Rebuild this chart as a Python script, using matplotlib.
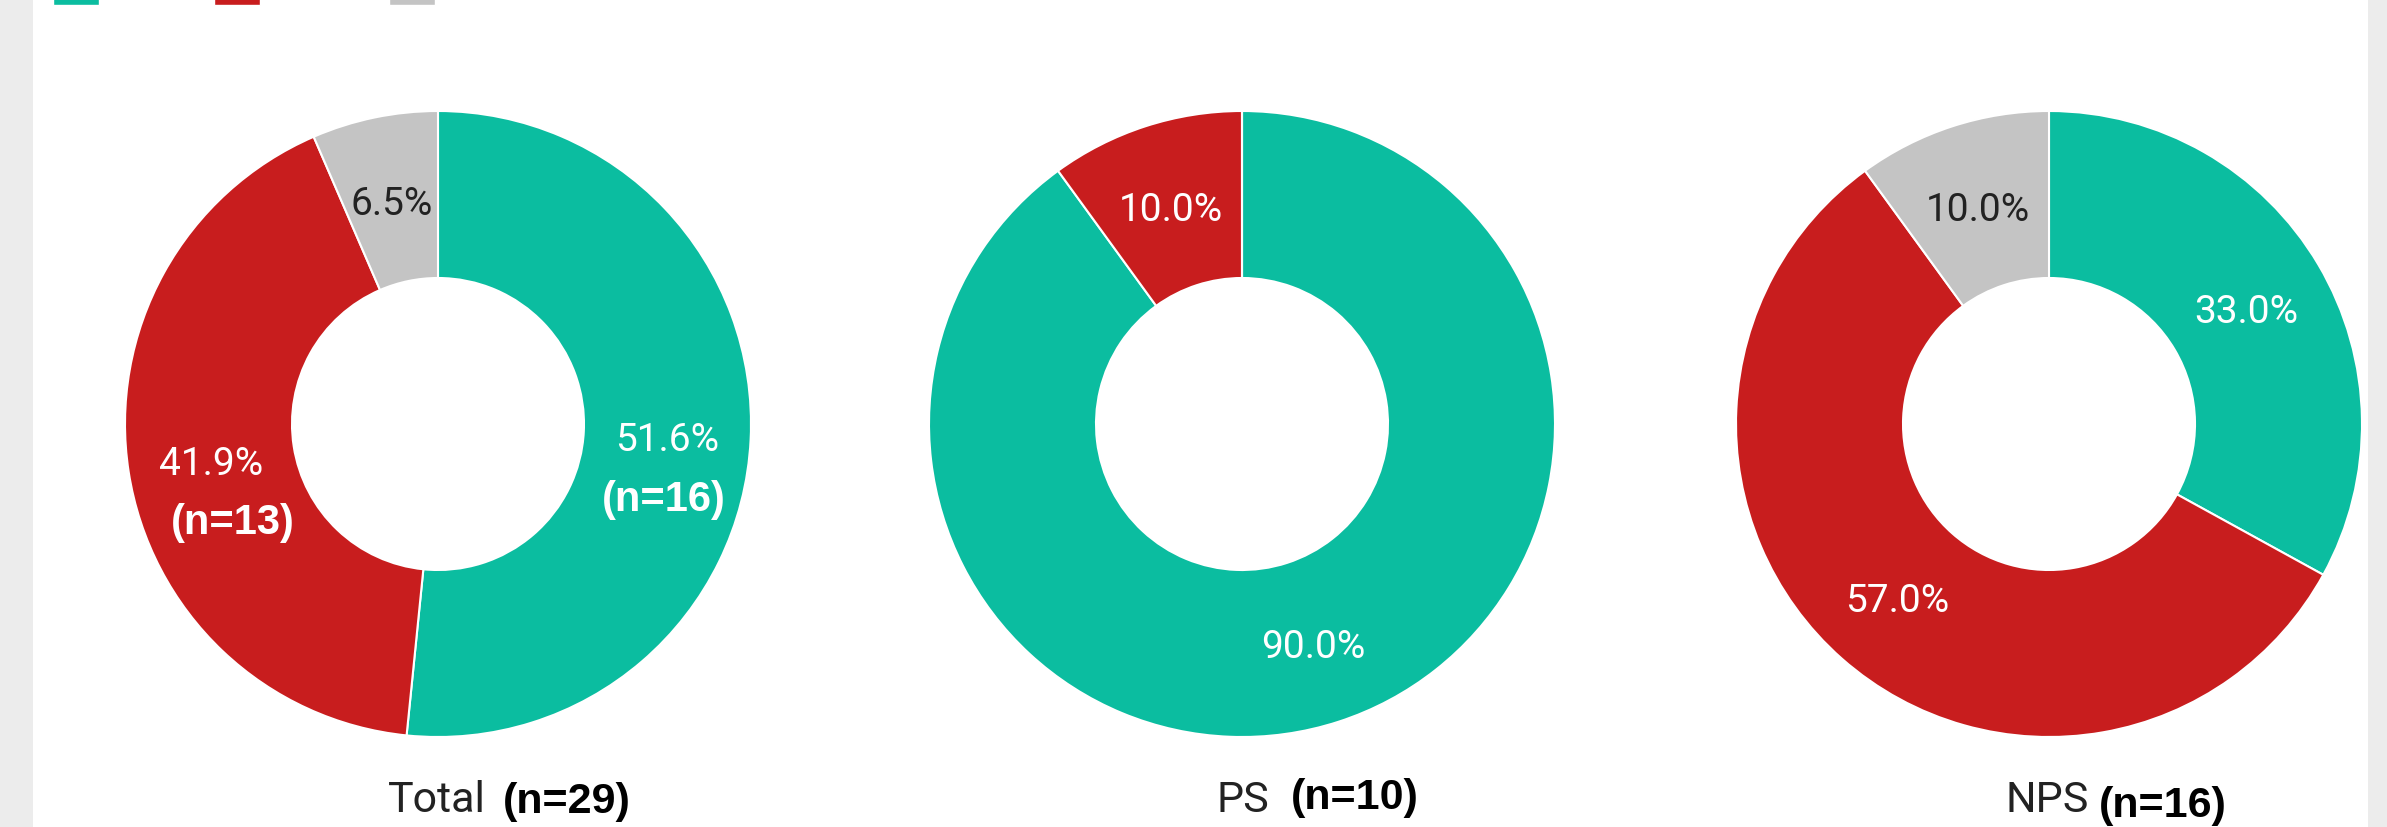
import matplotlib.pyplot as plt
from matplotlib.patches import Rectangle

W, H = 2387, 828

# data
groups = ['Total', 'PS', 'NPS']
group_n = ['(n=29)', '(n=10)', '(n=16)']
total_pct = [51.6, 41.9, 6.5]
ps_pct = [90.0, 10.0, 0.0]
nps_pct = [33.0, 57.0, 10.0]
total_slice_n = ['(n=16)', '(n=13)', '']

colors = ['#0bbda0', '#c81d1e', '#c4c4c4']
text_colors = ['white', 'white', '#222222']

# layout (pixels, from top-left)
centers_x = [438, 1242, 2049]
center_y = 425
R_out, R_in = 313, 146
name_x = [437, 1243, 2047]
n_x = [567, 1355, 2163]
n_base = [813, 809, 817]

fig = plt.figure(figsize=(W / 100, H / 100), dpi=100)
fig.patch.set_facecolor('white')
ax = fig.add_axes([0, 0, 1, 1])


def yy(y):
    return H - y


def fmt(p):
    return '' if p < 0.05 else f'{p:.1f}%'


label_sets = []
for cx, vals in zip(centers_x, [total_pct, ps_pct, nps_pct]):
    wedges, _, autotexts = ax.pie(
        vals, colors=colors, startangle=90, counterclock=False,
        radius=R_out, center=(cx, yy(center_y)), autopct=fmt,
        pctdistance=(R_out + R_in) / 2 / R_out,
        wedgeprops=dict(width=R_out - R_in, edgecolor='white', linewidth=1.5),
        textprops=dict(family='Roboto', fontsize=28))
    for t, c in zip(autotexts, text_colors):
        t.set_color(c)
        t.set_va('center_baseline')
    label_sets.append(autotexts)

# counts under the Total percentages
n_dx = [-3, 22, 0]
for t, s, dx in zip(label_sets[0], total_slice_n, n_dx):
    if s:
        x, y = t.get_position()
        ax.text(x + dx, y - 63, s, color='white', fontsize=30, fontweight='bold',
                family='Liberation Sans', ha='center', va='center')

# names below each donut
for g, n, x1, x2, b in zip(groups, group_n, name_x, n_x, n_base):
    ax.text(x1, yy(812), g, family='Roboto', fontsize=31, color='#222222',
            ha='center', va='baseline')
    ax.text(x2, yy(b), n, family='Liberation Sans', fontsize=31, fontweight='bold',
            color='black', ha='center', va='baseline')

# legend swatches, cut off at the top edge
for x0, c in zip([53, 214, 389], colors):
    ax.add_patch(Rectangle((x0, yy(6)), 46, 40, facecolor=c, edgecolor='white', lw=1))

# grey page margins
ax.add_patch(Rectangle((0, 0), 33, H, facecolor='#ececec', edgecolor='none'))
ax.add_patch(Rectangle((2368, 0), W - 2368, H, facecolor='#ececec', edgecolor='none'))

ax.set_xlim(0, W)
ax.set_ylim(0, H)
ax.set_aspect('auto')
ax.axis('off')

plt.savefig('out.png', dpi=100)
plt.close()
